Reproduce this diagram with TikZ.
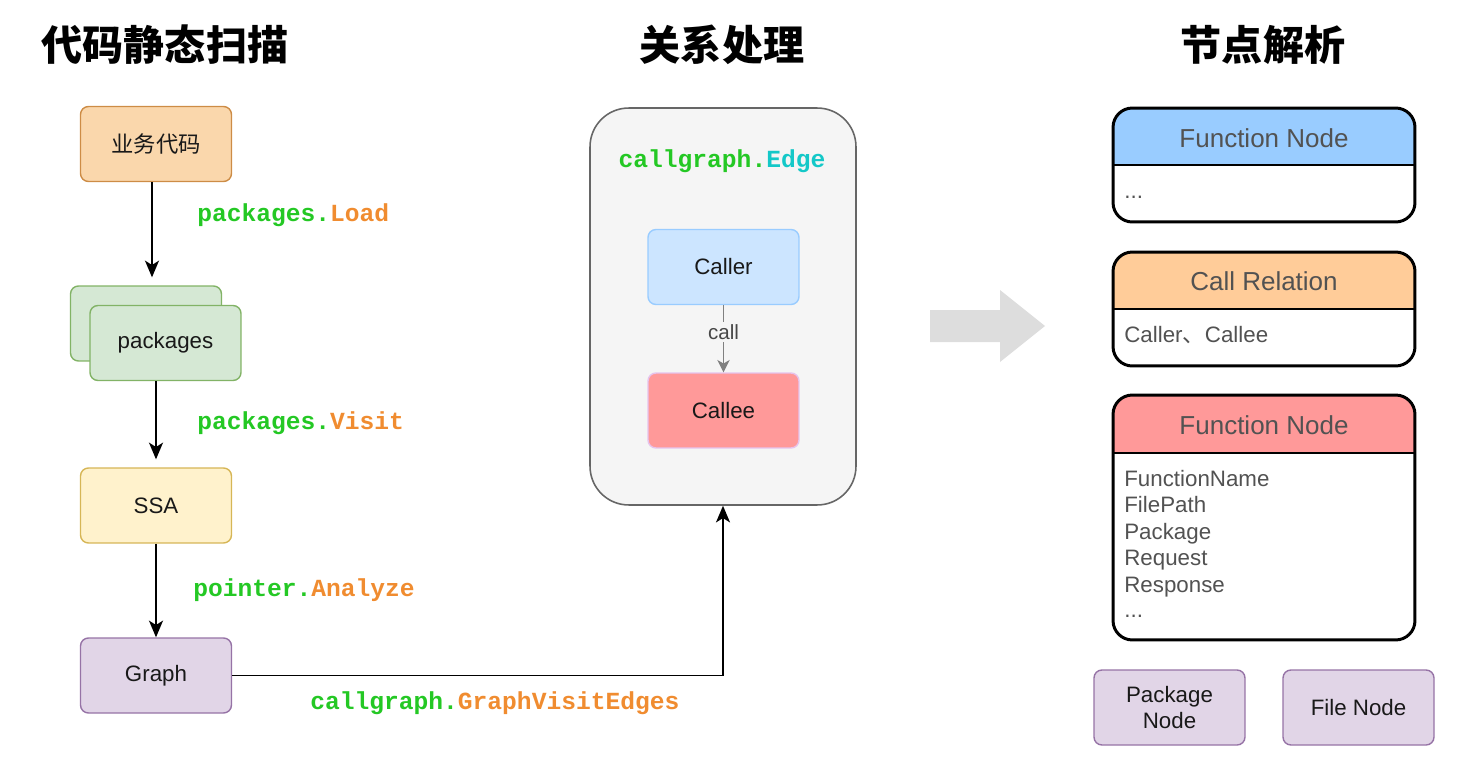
\documentclass[tikz,border=0pt]{standalone}
\usepackage{fontspec}
\setmainfont{Liberation Sans}
\setmonofont{Liberation Mono}
\newfontfamily\cjk{Noto Sans CJK SC}
\usetikzlibrary{arrows.meta}

\definecolor{codegreen}{RGB}{36,200,36}
\definecolor{codeorange}{RGB}{240,140,48}
\definecolor{codecyan}{RGB}{20,200,200}
\definecolor{bizfill}{HTML}{FAD7AC}
\definecolor{bizdraw}{RGB}{205,140,70}
\definecolor{pkgfill}{HTML}{D5E8D4}
\definecolor{pkgdraw}{HTML}{82B366}
\definecolor{ssafill}{HTML}{FFF2CC}
\definecolor{ssadraw}{HTML}{D6B656}
\definecolor{purplefill}{HTML}{E1D5E7}
\definecolor{purpledraw}{HTML}{9673A6}
\definecolor{callerfill}{HTML}{CCE5FF}
\definecolor{callerdraw}{HTML}{99CCFF}
\definecolor{calleefill}{HTML}{FF9999}
\definecolor{calleedraw}{HTML}{E6C3EC}
\definecolor{edgefill}{HTML}{F5F5F5}
\definecolor{edgedraw}{HTML}{666666}
\definecolor{fnblue}{HTML}{99CCFF}
\definecolor{relorange}{HTML}{FFCC99}
\definecolor{fnred}{HTML}{FF9999}
\definecolor{bigarrowgray}{HTML}{DDDDDD}

\begin{document}
\begin{tikzpicture}[x=0.02cm, y=-0.02cm,
        box/.style={draw, rounded corners=4.5pt, line width=0.8pt, minimum width=3.02cm, minimum height=1.5cm,
            font=\fontsize{12.7}{15}\selectfont, text=black!90, align=center},
        flow/.style={-{Stealth[length=9.5pt, width=8pt, inset=2.5pt]}, line width=0.9pt},
        callflow/.style={-{Stealth[length=7pt, width=7pt, inset=2pt]}, line width=1pt, draw=black!50},
        code/.style={font=\fontsize{14}{16}\selectfont\ttfamily\bfseries, anchor=west, inner sep=0pt},
        title/.style={font=\fontsize{23.4}{28}\selectfont\cjk\bfseries},
        tablebox/.style={fill=white, rounded corners=11pt, outer sep=0pt, minimum width=6.04cm},
        hdr/.style={font=\fontsize{14.8}{17}\selectfont, text=black!68},
        field/.style={font=\fontsize{12.7}{15}\selectfont, text=black!68, anchor=base west, inner sep=0pt}]

    \useasboundingbox (0,0) rectangle (1464,764);

    \node[title] (scantitle) at (165,45) {代码静态扫描};
    \node[title] (reltitle) at (722,45) {关系处理};
    \node[title] (parsetitle) at (1263,45) {节点解析};

    \node[box, fill=bizfill, draw=bizdraw, font=\fontsize{12.7}{15}\selectfont\cjk] (biz) at (156,144) {业务代码};

    \node[box, fill=pkgfill, draw=pkgdraw] (pkgback) at (146,323.5) {};
    \node[box, fill=pkgfill, draw=pkgdraw] (pkg) at (165.5,343) {packages};

    \node[box, fill=ssafill, draw=ssadraw] (ssa) at (156,505.5) {SSA};
    \node[box, fill=purplefill, draw=purpledraw] (graph) at (156,675.5) {Graph};

    \draw[flow, shorten >=0.16cm] ([xshift=-0.08cm]biz.south) -- ([xshift=-0.08cm]biz.south |- pkgback.north);
    \draw[flow, shorten >=0.16cm] (pkg.south -| ssa) -- (ssa.north);
    \draw[flow] (ssa) -- (graph);

    \node[code] (loadlabel) at (197,215) {\textcolor{codegreen}{packages.}\textcolor{codeorange}{Load}};
    \node[code] (visitlabel) at (197,423) {\textcolor{codegreen}{packages.}\textcolor{codeorange}{Visit}};
    \node[code] (analyzelabel) at (193,590) {\textcolor{codegreen}{pointer.}\textcolor{codeorange}{Analyze}};
    \node[code] (visitedgeslabel) at (310,703) {\textcolor{codegreen}{callgraph.}\textcolor{codeorange}{GraphVisitEdges}};

    \node[draw=edgedraw, fill=edgefill, rounded corners=22pt, line width=0.9pt,
        minimum width=5.32cm, minimum height=7.94cm] (edgebox) at (723,306.5) {};
    \node[code, anchor=center] (edgelabel) at (722,161) {\textcolor{codegreen}{callgraph.}\textcolor{codecyan}{Edge}};
    \node[box, fill=callerfill, draw=callerdraw] (caller) at (723.5,267) {Caller};
    \node[box, fill=calleefill, draw=calleedraw] (callee) at (723.5,410.5) {Callee};
    \draw[callflow] (caller) -- node[pos=0.4, fill=edgefill, inner sep=1.5pt, text=black!72,
        font=\fontsize{11.7}{13}\selectfont] (calllabel) {call} (callee);

    \draw[flow] (graph.east) -| (edgebox.south);

    \fill[bigarrowgray] (930,310) -- (1000,310) -- (1000,290) -- (1045,326) -- (1000,362) -- (1000,342) -- (930,342) -- cycle;

    \node[tablebox, minimum height=2.28cm] (fnA) at (1264,165) {};
    \node[tablebox, minimum height=2.28cm] (rel) at (1264,309) {};
    \node[tablebox, minimum height=4.9cm] (fnB) at (1264,517.5) {};
    \foreach \t/\c/\h in {fnA/fnblue/165, rel/relorange/309, fnB/fnred/453} {
        \begin{scope}
            \clip[rounded corners=11pt] (\t.north west) rectangle (\t.south east);
            \fill[\c] (\t.north west) rectangle (\t.east |- 0,\h);
        \end{scope}
        \draw[line width=1.7pt] (\t.west |- 0,\h) -- (\t.east |- 0,\h);
        \draw[line width=1.7pt, rounded corners=11pt] (\t.north west) rectangle (\t.south east);
    }

    \node[hdr] (fnAtitle) at (1264,138) {Function Node};
    \node[field] (fnAdots) at (1124,198) {...};
    \node[hdr] (reltitle) at (1264,281) {Call Relation};
    \node[field] (relfields) at (1124,342) {Caller{\cjk 、}Callee};
    \node[hdr] (fnBtitle) at (1264,425) {Function Node};
    \foreach \f [count=\i] in {FunctionName, FilePath, Package, Request, Response}
        \node[field] (fnBfield\i) at (1124,459.5+26.5*\i) {\f};
    \node[field] (fnBdots) at (1124,617) {...};

    \node[box, fill=purplefill, draw=purpledraw] (pkgnode) at (1169.5,707.5) {Package\\Node};
    \node[box, fill=purplefill, draw=purpledraw] (filenode) at (1358.5,707.5) {File Node};

\end{tikzpicture}
\end{document}
